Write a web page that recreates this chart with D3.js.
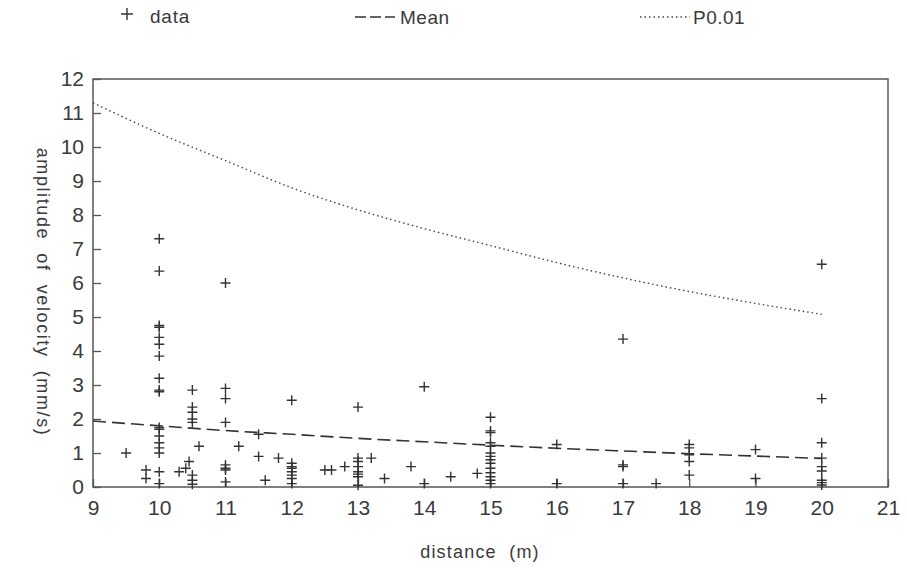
<!DOCTYPE html>
<html><head><meta charset="utf-8">
<script src="https://cdn.jsdelivr.net/npm/d3@7"></script>
<style>
html,body{margin:0;padding:0;background:#fff;}
svg text{font-family:"Liberation Sans","DejaVu Sans",sans-serif;fill:#3a3a3a;}
</style></head>
<body><svg id="c" width="907" height="571"></svg>
<script>
// ---- data ----
const dataDistance = [
  9.5, 9.8, 9.8,
  10,10,10,10,10,10,10,10,10,10,10,10,10,10,10,10,10,10,
  10.3, 10.4, 10.45,
  10.5,10.5,10.5,10.5,10.5,10.5,10.5,10.5,
  10.6,
  11,11,11,11,11,11,11,11,
  11.2, 11.5, 11.5, 11.6, 11.8,
  12,12,12,12,12,12,12,12,
  12.5, 12.6, 12.8,
  13,13,13,13,13,13,13,13,
  13.2, 13.4, 13.8, 14, 14, 14.4, 14.8,
  15,15,15,15,15,15,15,15,15,15,15,15,15,15,
  16, 16,
  17, 17, 17, 17, 17.5,
  18,18,18,18,18,
  19, 19,
  20,20,20,20,20,20,20,20,20
];
const dataAmplitude = [
  1.0, 0.5, 0.25,
  7.3,6.35,4.75,4.7,4.4,4.2,3.85,3.2,2.85,2.8,1.75,1.7,1.5,1.3,1.15,1.0,0.45,0.1,
  0.45, 0.55, 0.75,
  2.85,2.35,2.2,2.0,1.9,0.35,0.2,0.08,
  1.2,
  6.0,2.9,2.6,1.9,0.65,0.55,0.5,0.15,
  1.2, 1.55, 0.9, 0.2, 0.85,
  2.55,0.7,0.6,0.55,0.45,0.35,0.25,0.1,
  0.5, 0.5, 0.6,
  2.35,0.85,0.75,0.6,0.45,0.38,0.3,0.05,
  0.85, 0.25, 0.6, 2.95, 0.1, 0.3, 0.4,
  2.05,1.65,1.6,1.3,1.2,1.0,0.9,0.8,0.7,0.55,0.42,0.3,0.2,0.1,
  1.25, 0.1,
  4.35, 0.65, 0.6, 0.1, 0.1,
  1.25,1.15,0.95,0.75,0.35,
  1.1, 0.25,
  6.55,2.6,1.3,0.85,0.6,0.47,0.2,0.13,0.06
];
const curveDistance = [9,10,11,12,13,14,15,16,17,18,19,20];
const meanValues    = [1.94,1.80,1.66,1.55,1.43,1.33,1.23,1.14,1.06,0.98,0.91,0.84];
const p001Values    = [11.3,10.4,9.6,8.8,8.15,7.6,7.1,6.6,6.15,5.75,5.4,5.08];
const xTicks = [9,10,11,12,13,14,15,16,17,18,19,20,21];
const yTicks = [0,1,2,3,4,5,6,7,8,9,10,11,12];
const legendLabels = ["data","Mean","P0.01"];
const xTitle = "distance  (m)";
const yTitle = "amplitude  of  velocity  (mm/s)";

// ---- drawing ----
const svg = d3.select("#c");
const L=93, R=888, T=79, B=487;
const x = d3.scaleLinear().domain([9,21]).range([L,R]);
const y = d3.scaleLinear().domain([0,12]).range([B,T]);
const ink = "#333";

// frame
svg.append("rect").attr("x",L).attr("y",T).attr("width",R-L).attr("height",B-T)
  .attr("fill","none").attr("stroke","#555").attr("stroke-width",1.5);

// axes
const xAxis = d3.axisBottom(x).tickValues(xTicks).tickSize(-8).tickPadding(13).tickFormat(d3.format("d"));
const gx = svg.append("g").attr("transform",`translate(0,${B})`).call(xAxis);
gx.select(".domain").remove();
gx.selectAll("line").attr("stroke","#555").attr("stroke-width",1.3);
gx.selectAll("text").attr("font-size",21).attr("fill","#3a3a3a").attr("font-family","Liberation Sans, sans-serif");

const yAxis = d3.axisLeft(y).tickValues(yTicks).tickSize(-8).tickPadding(9).tickFormat(d3.format("d"));
const gy = svg.append("g").attr("transform",`translate(${L},0)`).call(yAxis);
gy.select(".domain").remove();
gy.selectAll("line").attr("stroke","#555").attr("stroke-width",1.3);
gy.selectAll("text").attr("font-size",21).attr("fill","#3a3a3a").attr("font-family","Liberation Sans, sans-serif");

// axis titles
svg.append("text").attr("x",480).attr("y",558).attr("text-anchor","middle")
  .attr("font-size",18).attr("letter-spacing",1.2).style("white-space","pre").text(xTitle);
svg.append("text").attr("transform","translate(37,292) rotate(90)").attr("text-anchor","middle")
  .attr("font-size",18).attr("letter-spacing",1.6).style("white-space","pre").text(yTitle);

// curves
const line = d3.line().x(d=>x(d[0])).y(d=>y(d[1])).curve(d3.curveMonotoneX);
svg.append("path").datum(curveDistance.map((d,i)=>[d,meanValues[i]])).attr("d",line)
  .attr("fill","none").attr("stroke",ink).attr("stroke-width",1.6).attr("stroke-dasharray","13,6");
svg.append("path").datum(curveDistance.map((d,i)=>[d,p001Values[i]])).attr("d",line)
  .attr("fill","none").attr("stroke","#444").attr("stroke-width",1.4).attr("stroke-dasharray","1.5,3");

// data crosses
const s = 5;
const pts = svg.append("g");
dataDistance.forEach((d,i)=>{
  const cx=x(d), cy=y(dataAmplitude[i]);
  pts.append("path").attr("d",`M${cx-s},${cy}H${cx+s}M${cx},${cy-s}V${cy+s}`)
    .attr("stroke",ink).attr("stroke-width",1.4).attr("fill","none");
});

// legend
const lg = svg.append("g");
lg.append("path").attr("d","M121,14H133M127,8V20").attr("stroke",ink).attr("stroke-width",1.4);
lg.append("text").attr("x",150).attr("y",23).attr("font-size",19).attr("letter-spacing",0.8).text(legendLabels[0]);
lg.append("path").attr("d","M355,17H395").attr("stroke",ink).attr("stroke-width",1.4).attr("stroke-dasharray","11,4");
lg.append("text").attr("x",400).attr("y",24).attr("font-size",19).attr("letter-spacing",0.5).text(legendLabels[1]);
lg.append("path").attr("d","M640,17H690").attr("stroke","#444").attr("stroke-width",1.4).attr("stroke-dasharray","1.5,3");
lg.append("text").attr("x",693).attr("y",24).attr("font-size",19).attr("letter-spacing",0.5).text(legendLabels[2]);
</script></body></html>
